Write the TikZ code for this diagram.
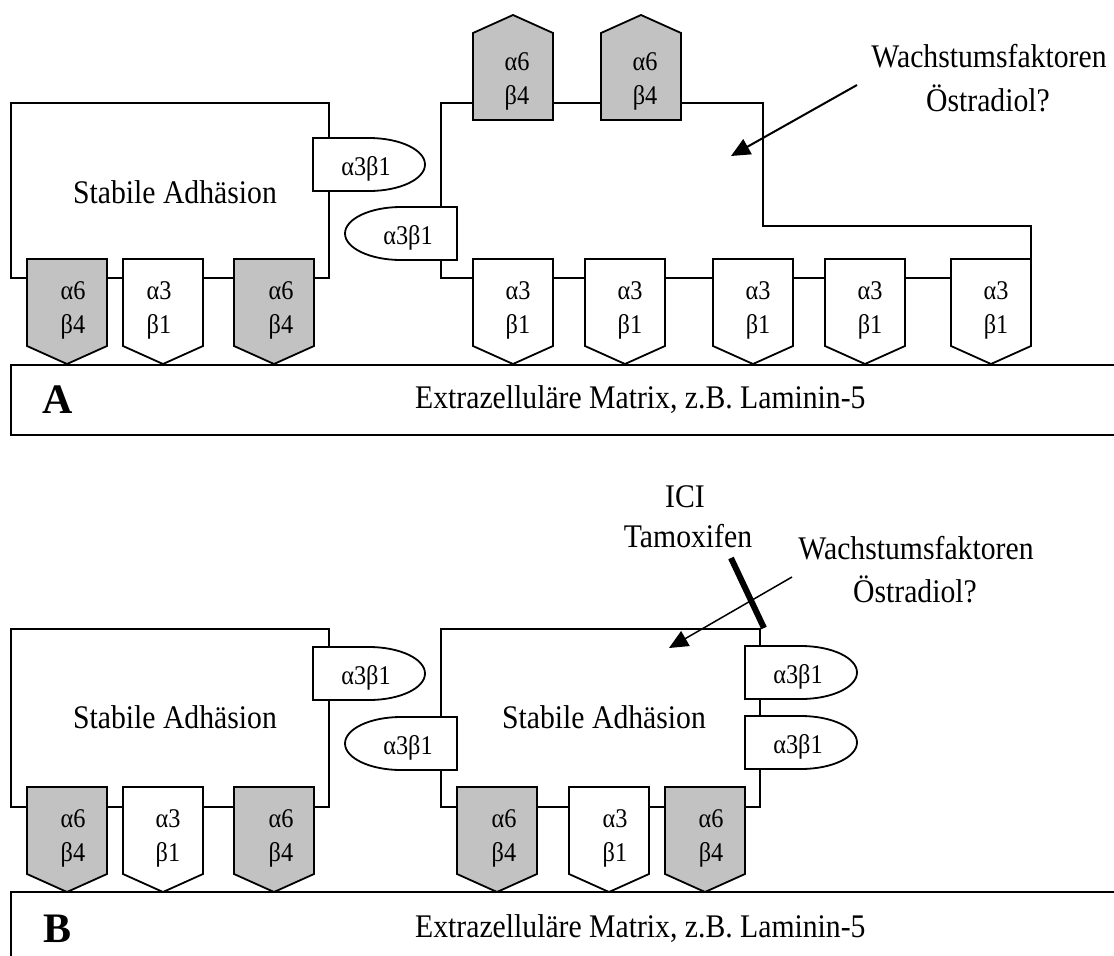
\documentclass[tikz,border=0pt]{standalone}
\usepackage{fontspec}
\setmainfont{Liberation Serif}
\usetikzlibrary{arrows.meta}
\newcommand\cond[1]{\scalebox{0.9}[1]{#1}}
\tikzset{
  cellline/.style={draw, line width=2pt},
  intw/.style={draw, fill=white, line width=1.8pt, line join=miter},
  intg/.style={intw, fill=black!24},
  biglbl/.style={font=\fontsize{33}{36}\selectfont, inner sep=0pt, anchor=base},
  smalllbl/.style={font=\fontsize{27}{30}\selectfont, inner sep=0pt, anchor=base},
  panellbl/.style={font=\fontsize{42}{46}\selectfont\bfseries, inner sep=0pt, anchor=base west},
  arr/.style={-{Triangle[length=19pt,width=17pt]}, line width=2pt},
  arrthin/.style={-{Triangle[length=19pt,width=17pt]}, line width=1.5pt},
  blockbar/.style={line width=6pt}
}
% downward pentagon: #1 name, #2 x-left, #3 top, #4 style, #5 line1, #6 line2, #7 text x-offset
\newcommand\pentdown[7]{%
  \draw[#4] (#2,#3) -- ++(80,0) -- ++(0,87) -- ++(-40,18) -- ++(-40,-18) -- cycle;
  \node[smalllbl] (#1a) at ([xshift=#7pt,yshift=-40pt]#2,#3) {\cond{#5}};
  \node[smalllbl] (#1b) at ([xshift=#7pt,yshift=-74pt]#2,#3) {\cond{#6}};}
% upward pentagon: #1 name, #2 x-left, #3 bottom, #4 style
\newcommand\pentup[7]{%
  \draw[#4] (#2,#3) -- ++(80,0) -- ++(0,-87) -- ++(-40,-18) -- ++(-40,18) -- cycle;
  \node[smalllbl] (#1a) at ([xshift=#7pt,yshift=50pt]#2,#3) {\cond{#5}};
  \node[smalllbl] (#1b) at ([xshift=#7pt,yshift=16pt]#2,#3) {\cond{#6}};}
% tab bulging right: #1 name, #2 x-left, #3 top
\newcommand\tabright[3]{%
  \draw[intw] (#2,#3) -- ++(56,0) .. controls +(31,0) and +(0,-14.6) .. ++(56,26.5)
     .. controls +(0,14.6) and +(31,0) .. ++(-56,26.5) -- ++(-56,0) -- cycle;
  \node[smalllbl] (#1) at ([xshift=53pt,yshift=-37pt]#2,#3) {\cond{α3β1}};}
% tab bulging left: #1 name, #2 x-right, #3 top
\newcommand\tableft[3]{%
  \draw[intw] (#2,#3) -- ++(-56,0) .. controls +(-31,0) and +(0,-14.6) .. ++(-56,26.5)
     .. controls +(0,14.6) and +(-31,0) .. ++(56,26.5) -- ++(56,0) -- cycle;
  \node[smalllbl] (#1) at ([xshift=-49pt,yshift=-37pt]#2,#3) {\cond{α3β1}};}
\begin{document}
\begin{tikzpicture}[x=1pt,y=-1pt]
\path[use as bounding box] (0,0) rectangle (1114,956);
\clip (0,0) rectangle (1114,956);
% ---------------- Panel A ----------------
\draw[cellline] (11,365) rectangle (1140,435);
\node[panellbl] (labA) at (42,413) {A};
\node[biglbl, anchor=base west] (matA) at (415,408) {\cond{Extrazelluläre Matrix, z.B. Laminin-5}};
\draw[cellline] (11,103) rectangle (329,278);
\draw[cellline] (441,103) -- (763,103) -- (763,226) -- (1031,226) -- (1031,278) -- (441,278) -- cycle;
\node[biglbl] (stabA) at (175,203) {\cond{Stabile Adhäsion}};
\tabright{tabA1}{313}{138}
\tableft{tabA2}{457}{207}
\pentdown{pA1}{27}{259}{intg}{α6}{β4}{46}
\pentdown{pA2}{123}{259}{intw}{α3}{β1}{36}
\pentdown{pA3}{234}{259}{intg}{α6}{β4}{47}
\pentup{pA4}{473}{120}{intg}{α6}{β4}{44}
\pentup{pA5}{601}{120}{intg}{α6}{β4}{44}
\pentdown{pA6}{473}{259}{intw}{α3}{β1}{45}
\pentdown{pA7}{585}{259}{intw}{α3}{β1}{45}
\pentdown{pA8}{713}{259}{intw}{α3}{β1}{45}
\pentdown{pA9}{825}{259}{intw}{α3}{β1}{45}
\pentdown{pA10}{951}{259}{intw}{α3}{β1}{45}
\node[biglbl] (wachsA) at (989,67) {\cond{Wachstumsfaktoren}};
\node[biglbl] (oestA) at (988,111) {\cond{Östradiol?}};
\coordinate (arrAs) at (857,85);
\coordinate (arrAe) at (731,156);
\draw[arr] (arrAs) -- (arrAe);
% ---------------- Panel B ----------------
\draw[cellline] (11,892) rectangle (1140,990);
\node[panellbl] (labB) at (43,942) {B};
\node[biglbl, anchor=base west] (matB) at (415,937) {\cond{Extrazelluläre Matrix, z.B. Laminin-5}};
\draw[cellline] (11,629) rectangle (329,807);
\draw[cellline] (441,629) rectangle (760,807);
\node[biglbl] (stabB1) at (175,728) {\cond{Stabile Adhäsion}};
\node[biglbl] (stabB2) at (604,728) {\cond{Stabile Adhäsion}};
\tabright{tabB1}{313}{647}
\tableft{tabB2}{457}{717}
\tabright{tabB3}{745}{646}
\tabright{tabB4}{745}{716}
\pentdown{pB1}{27}{787}{intg}{α6}{β4}{46}
\pentdown{pB2}{123}{787}{intw}{α3}{β1}{45}
\pentdown{pB3}{234}{787}{intg}{α6}{β4}{47}
\pentdown{pB4}{457}{787}{intg}{α6}{β4}{47}
\pentdown{pB5}{569}{787}{intw}{α3}{β1}{46}
\pentdown{pB6}{665}{787}{intg}{α6}{β4}{46}
\node[biglbl] (ici) at (685,507) {\cond{ICI}};
\node[biglbl] (tamox) at (688,547) {\cond{Tamoxifen}};
\node[biglbl] (wachsB) at (916,559) {\cond{Wachstumsfaktoren}};
\node[biglbl] (oestB) at (915,602) {\cond{Östradiol?}};
\coordinate (arrBs) at (792,577);
\coordinate (arrBe) at (669,648);
\draw[arrthin] (arrBs) -- (arrBe);
\coordinate (barS) at (731,558);
\coordinate (barE) at (764,628);
\draw[blockbar] (barS) -- (barE);
\end{tikzpicture}
\end{document}
